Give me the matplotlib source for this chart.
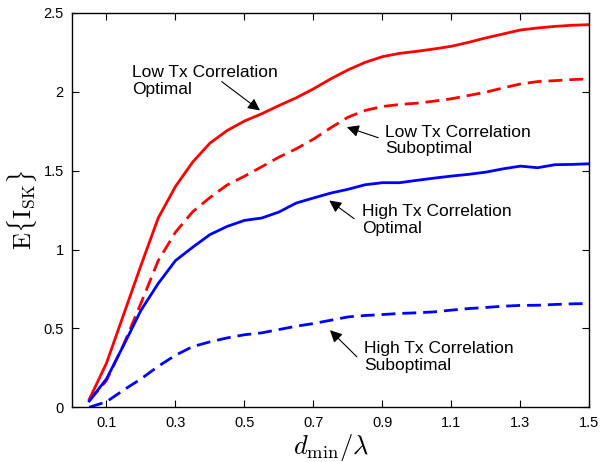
import numpy as np
import matplotlib
matplotlib.use('Agg')
import matplotlib.pyplot as plt

# d_min / lambda
d_ratio = [0.05, 0.10, 0.15, 0.20, 0.25, 0.30, 0.35, 0.40, 0.45, 0.50,
           0.55, 0.60, 0.65, 0.70, 0.75, 0.80, 0.85, 0.90, 0.95, 1.00,
           1.05, 1.10, 1.15, 1.20, 1.25, 1.30, 1.35, 1.40, 1.45, 1.50]

low_opt = [0.05, 0.28, 0.59, 0.90, 1.20, 1.40, 1.555, 1.675, 1.755, 1.815,
           1.861, 1.913, 1.962, 2.019, 2.082, 2.139, 2.187, 2.223, 2.244, 2.257,
           2.272, 2.289, 2.314, 2.342, 2.367, 2.392, 2.405, 2.415, 2.422, 2.426]

low_sub = [0.04, 0.17, 0.40, 0.66, 0.93, 1.11, 1.24, 1.33, 1.41, 1.465,
           1.525, 1.586, 1.639, 1.70, 1.772, 1.839, 1.882, 1.907, 1.920, 1.928,
           1.941, 1.956, 1.977, 1.998, 2.025, 2.05, 2.065, 2.071, 2.078, 2.082]

high_opt = [0.04, 0.18, 0.395, 0.615, 0.785, 0.93, 1.015, 1.095, 1.147, 1.185,
            1.20, 1.238, 1.295, 1.327, 1.358, 1.382, 1.411, 1.424, 1.424, 1.439,
            1.453, 1.466, 1.477, 1.491, 1.512, 1.529, 1.519, 1.538, 1.540, 1.544]

high_sub = [0.0, 0.035, 0.11, 0.18, 0.26, 0.33, 0.385, 0.415, 0.44, 0.46,
            0.472, 0.493, 0.514, 0.531, 0.552, 0.573, 0.582, 0.588, 0.595, 0.599,
            0.605, 0.616, 0.626, 0.633, 0.641, 0.646, 0.647, 0.652, 0.656, 0.658]

x_ticks = [0.1, 0.3, 0.5, 0.7, 0.9, 1.1, 1.3, 1.5]
y_ticks = [0, 0.5, 1, 1.5, 2, 2.5]

# label text, text position, arrow tail, arrow head
notes = [
    ('Low Tx Correlation\nOptimal', (0.175, 2.07), (0.434, 2.065), (0.545, 1.882)),
    ('Low Tx Correlation\nSuboptimal', (0.908, 1.692), (0.888, 1.709), (0.797, 1.776)),
    ('High Tx Correlation\nOptimal', (0.840, 1.185), (0.818, 1.196), (0.746, 1.311)),
    ('High Tx Correlation\nSuboptimal', (0.848, 0.318), (0.826, 0.320), (0.748, 0.489)),
]

plt.rcParams['font.family'] = ['Liberation Sans', 'DejaVu Sans']
plt.rcParams['mathtext.fontset'] = 'cm'

fig = plt.figure(figsize=(6.02, 4.62), dpi=100)
ax = fig.add_axes([0.1196, 0.1184, 0.8594, 0.8535])

dash = (0, (5, 2.5))
ax.plot(d_ratio, low_opt, color=(1, 0, 0), linewidth=2)
ax.plot(d_ratio, low_sub, color=(1, 0, 0), linewidth=2, linestyle=dash)
ax.plot(d_ratio, high_opt, color=(0, 0, 1), linewidth=2)
ax.plot(d_ratio, high_sub, color=(0, 0, 1), linewidth=2, linestyle=dash)

for txt, pos, tail, head in notes:
    ax.text(pos[0], pos[1], txt, fontsize=12.5, ha='left', va='center', linespacing=1.15)
    ax.annotate('', xy=head, xytext=tail,
                arrowprops=dict(arrowstyle='-|>', color='k', lw=0.8,
                                mutation_scale=18, shrinkA=0, shrinkB=0))

ax.set_xlim(0, 1.5)
ax.set_ylim(0, 2.5)
ax.set_xticks(x_ticks)
ax.set_xticklabels(['0.1', '0.3', '0.5', '0.7', '0.9', '1.1', '1.3', '1.5'])
ax.set_yticks(y_ticks)
ax.set_yticklabels(['0', '0.5', '1', '1.5', '2', '2.5'])
ax.tick_params(direction='in', top=True, right=True, length=5, width=0.8,
               labelsize=10.5, pad=6)
for s in ax.spines.values():
    s.set_linewidth(1.0)

ax.set_xlabel(r'$d_{\min}/\lambda$', fontsize=19, labelpad=2)
ax.set_ylabel(r'$\mathrm{E}\{\mathrm{I}_{\mathrm{SK}}\}$', fontsize=18, labelpad=3)

fig.savefig('out.png', dpi=100)
plt.close()
